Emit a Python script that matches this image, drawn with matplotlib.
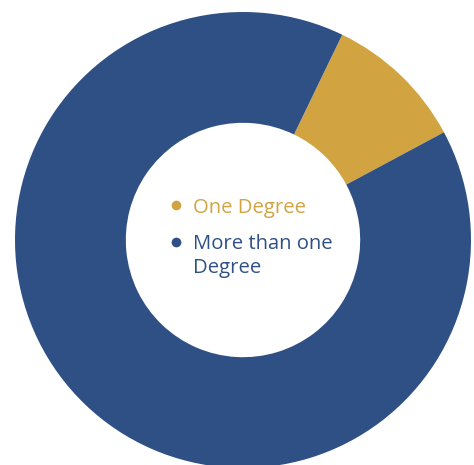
import matplotlib
matplotlib.use("Agg")
import matplotlib.pyplot as plt
from matplotlib.lines import Line2D

categories = ["One Degree", "More than one\nDegree"]
values = [10, 90]
colors = ["#D1A441", "#2F5084"]

W, H = 474, 465
cx, cy, R = 243, 240, 228  # pixel center (from top) and outer radius

fig = plt.figure(figsize=(W / 100, H / 100), dpi=100)
ax = fig.add_axes([0, 0, 1, 1])
ax.pie(values, colors=colors, startangle=64.2, counterclock=False, radius=1,
       wedgeprops=dict(width=0.486, linewidth=0))
ax.set_aspect("equal")
ax.set_xlim(-cx / R, (W - cx) / R)
ax.set_ylim(-(H - cy) / R, cy / R)
ax.axis("off")

# legend drawn manually (marker aligned with first line of each label)
dot_x, text_x = 176, 193
entry_base = [212.5, 249]   # baseline of first line of each entry (px from top)
line_step = 24
for lab, col, yb in zip(categories, colors, entry_base):
    fig.add_artist(Line2D([dot_x / W], [1 - (yb - 7.5) / H], marker="o",
                          markersize=7, color=col, markeredgewidth=0,
                          transform=fig.transFigure))
    for i, line in enumerate(lab.split("\n")):
        fig.text(text_x / W, 1 - (yb + i * line_step) / H, line, color=col,
                 family="Open Sans", fontsize=14.6, va="baseline", ha="left")

fig.savefig("out.png", dpi=100)
